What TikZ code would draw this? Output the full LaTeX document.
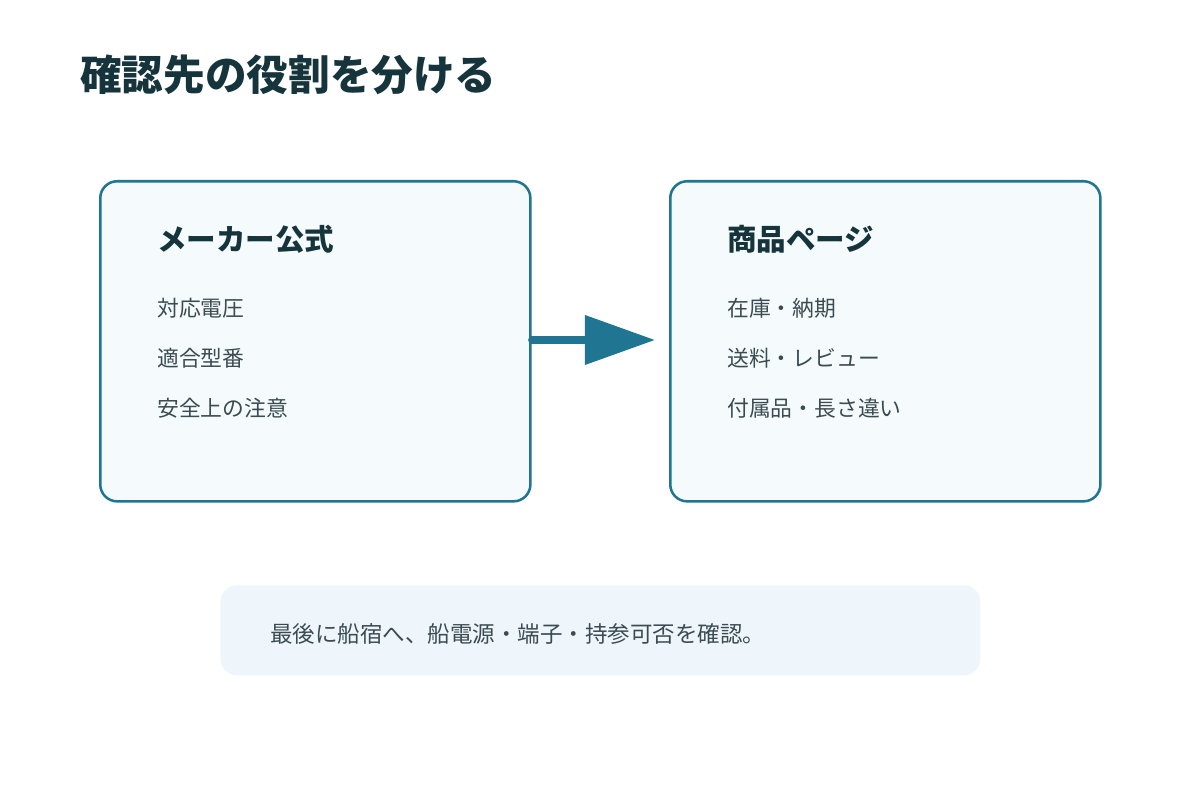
\documentclass[tikz,border=0pt]{standalone}
\usepackage{fontspec}
\setmainfont{Noto Sans CJK JP}
\usetikzlibrary{positioning,arrows.meta}
\definecolor{edge}{HTML}{1F7592}
\definecolor{boxfill}{HTML}{F5FBFC}
\definecolor{notefill}{HTML}{EEF6FB}
\definecolor{ink}{HTML}{16343C}
\definecolor{soft}{HTML}{3B4B52}
\tikzset{
  card/.style={draw=edge,line width=1.8pt,fill=boxfill,rounded corners=12pt,
    minimum width=10.75cm,minimum height=8cm,anchor=north west},
  head/.style={anchor=west,text=ink,font=\bfseries\fontsize{21}{24}\selectfont,inner sep=0pt},
  item/.style={anchor=west,text=soft,font=\fontsize{15.5}{18}\selectfont,inner sep=0pt}
}
\begin{document}
\begin{tikzpicture}[x=0.025cm,y=-0.025cm]
  \useasboundingbox[fill=white] (0,0) rectangle (1200,800);

  \node[anchor=west,text=ink,font=\bfseries\fontsize{29.6}{32}\selectfont,inner sep=0pt]
    (title) at (80,75) {確認先の役割を分ける};

  % left card
  \node[card] (maker) at (99,180) {};
  \node[head] (makerhead) at (157,239) {メーカー公式};
  \node[item] (m1) at (157,308) {対応電圧};
  \node[item] (m2) at (157,358) {適合型番};
  \node[item] (m3) at (157,408) {安全上の注意};

  % right card
  \node[card] (shop) at (669,180) {};
  \node[head] (shophead) at (727,239) {商品ページ};
  \node[item] (s1) at (727,308) {在庫・納期};
  \node[item] (s2) at (727,358) {送料・レビュー};
  \node[item] (s3) at (727,408) {付属品・長さ違い};

  % arrow
  \coordinate (tip) at (655,340);
  \draw[edge,line width=5pt,line cap=round,
    -{Triangle[length=1.75cm,width=1.2cm]}] (maker.east |- tip) -- (tip);

  % note
  \node[fill=notefill,rounded corners=12pt,minimum width=19cm,minimum height=2.25cm,
    anchor=north west] (note) at (220,585) {};
  \node[item,font=\fontsize{16}{18}\selectfont] (notetext) at (270,634) {最後に船宿へ、船電源・端子・持参可否を確認。};
\end{tikzpicture}
\end{document}
